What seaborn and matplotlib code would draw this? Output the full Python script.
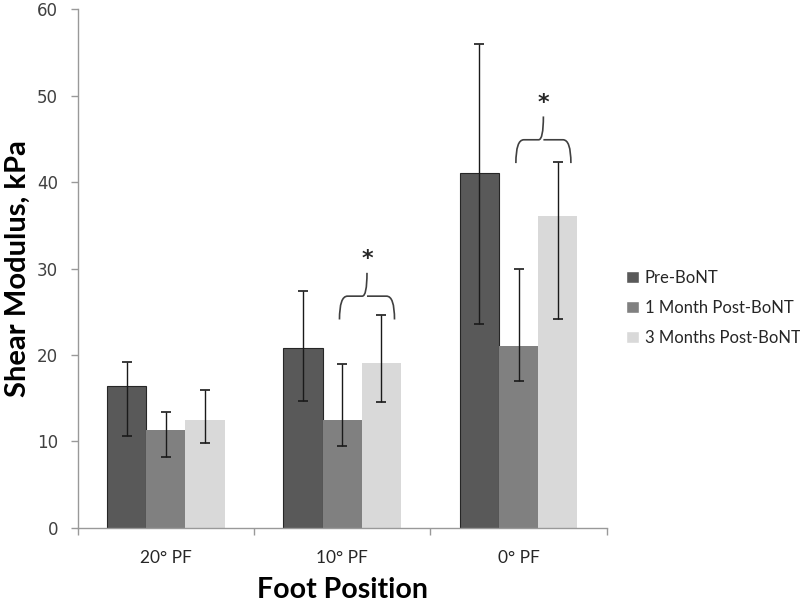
import numpy as np
import pandas as pd
import matplotlib
matplotlib.use("Agg")
import matplotlib.pyplot as plt
from matplotlib.path import Path
from matplotlib.patches import PathPatch
import seaborn as sns

# values (kPa)
positions = ["20° PF", "10° PF", "0° PF"]
groups = ["Pre-BoNT", "1 Month Post-BoNT", "3 Months Post-BoNT"]

pre = [16.4, 20.8, 41.0]
pre_hi = [19.2, 27.4, 56.0]
pre_lo = [10.6, 14.7, 23.6]

month1 = [11.3, 12.5, 21.0]
month1_hi = [13.4, 18.9, 30.0]
month1_lo = [8.2, 9.5, 17.0]

month3 = [12.5, 19.1, 36.1]
month3_hi = [15.9, 24.6, 42.3]
month3_lo = [9.8, 14.5, 24.1]

colors = ["#595959", "#808080", "#d9d9d9"]

# significance braces: category index, brace base value
brace_cat = [1, 2]
brace_base = [24.1, 42.2]

means = [pre, month1, month3]
highs = [pre_hi, month1_hi, month3_hi]
lows = [pre_lo, month1_lo, month3_lo]

rows = []
for g, vals in zip(groups, means):
    for p, v in zip(positions, vals):
        rows.append({"position": p, "group": g, "modulus": v})
df = pd.DataFrame(rows)

sns.set_style("white")
plt.rcParams["font.family"] = ["Lato", "DejaVu Sans"]

fig = plt.figure(figsize=(8, 6.04), dpi=100)
ax = fig.add_axes([0.0969, 0.1263, 0.6615, 0.8583])

sns.barplot(data=df, x="position", y="modulus", hue="group", order=positions,
            hue_order=groups, palette=colors, saturation=1, width=0.667,
            errorbar=None, ax=ax)

bars = list(ax.containers)

# asymmetric error bars on top of each bar
for i, cont in enumerate(bars):
    xs = [b.get_x() + b.get_width() / 2 for b in cont]
    vals = np.array(means[i])
    yerr = [vals - np.array(lows[i]), np.array(highs[i]) - vals]
    ax.errorbar(xs, vals, yerr=yerr, fmt="none", ecolor="#1a1a1a",
                elinewidth=1.0, capsize=3.5, capthick=1.2, zorder=5)
    for b in cont:
        if i == 0:
            b.set_edgecolor("#262626")
            b.set_linewidth(0.8)
        else:
            b.set_edgecolor("none")

# braces with stars
for k, cat in enumerate(brace_cat):
    width = bars[1][cat].get_width()
    left = bars[1][cat].get_x() + width / 2 - 0.015
    right = left + 0.312
    mid = (left + right) / 2
    y0 = brace_base[k]
    yh = y0 + 2.7
    yt = y0 + 5.4
    d = 0.045
    verts = [(left, y0), (left, yh), (left + d, yh),
             (mid - d * 0.6, yh), (mid, yh), (mid, yt),
             (mid, yh), (mid + d * 0.6, yh),
             (right - d, yh), (right, yh), (right, y0)]
    codes = [Path.MOVETO, Path.CURVE3, Path.CURVE3,
             Path.LINETO, Path.CURVE3, Path.CURVE3,
             Path.MOVETO, Path.LINETO,
             Path.LINETO, Path.CURVE3, Path.CURVE3]
    ax.add_patch(PathPatch(Path(verts, codes), facecolor="none",
                           edgecolor="#404040", linewidth=1.2, zorder=6))
    ax.text(mid, yt + 1.6, "*", ha="center", va="center", fontsize=16,
            fontweight="bold", color="#262626", family="DejaVu Sans")

ax.set_ylim(0, 60)
ax.set_xlim(-0.5, 2.5)
ax.set_yticks(range(0, 61, 10))
ax.set_yticklabels([str(v) for v in range(0, 61, 10)], family="DejaVu Sans",
                   fontsize=12, color="#404040")
ax.set_xticks([0, 1, 2])
ax.set_xticklabels(positions, fontsize=12.5, color="#262626")
ax.set_xticks([-0.5, 0.5, 1.5, 2.5], minor=True)
ax.tick_params(axis="x", which="major", length=0, pad=16)
ax.tick_params(axis="x", which="minor", length=5, width=1, color="#999999",
               direction="out", bottom=True)
ax.tick_params(axis="y", length=5, width=1, color="#999999", direction="out",
               left=True, pad=9)

for side in ["top", "right"]:
    ax.spines[side].set_visible(False)
for side in ["left", "bottom"]:
    ax.spines[side].set_color("#999999")
    ax.spines[side].set_linewidth(1.0)

ax.set_ylabel("Shear Modulus, kPa", fontsize=21, fontweight="bold", color="black")
ax.set_xlabel("Foot Position", fontsize=20.5, fontweight="bold", color="black")
ax.yaxis.set_label_coords(-0.089, 0.5)
ax.xaxis.set_label_coords(0.5, -0.095)

handles, labels = ax.get_legend_handles_labels()
ax.legend(handles, labels, loc="center left", bbox_to_anchor=(0.783, 0.49),
          bbox_transform=fig.transFigure, frameon=False, fontsize=12,
          handlelength=0.75, handleheight=0.75, handletextpad=0.35,
          labelspacing=0.85, borderpad=0, borderaxespad=0)

fig.savefig("out.png", dpi=100)
